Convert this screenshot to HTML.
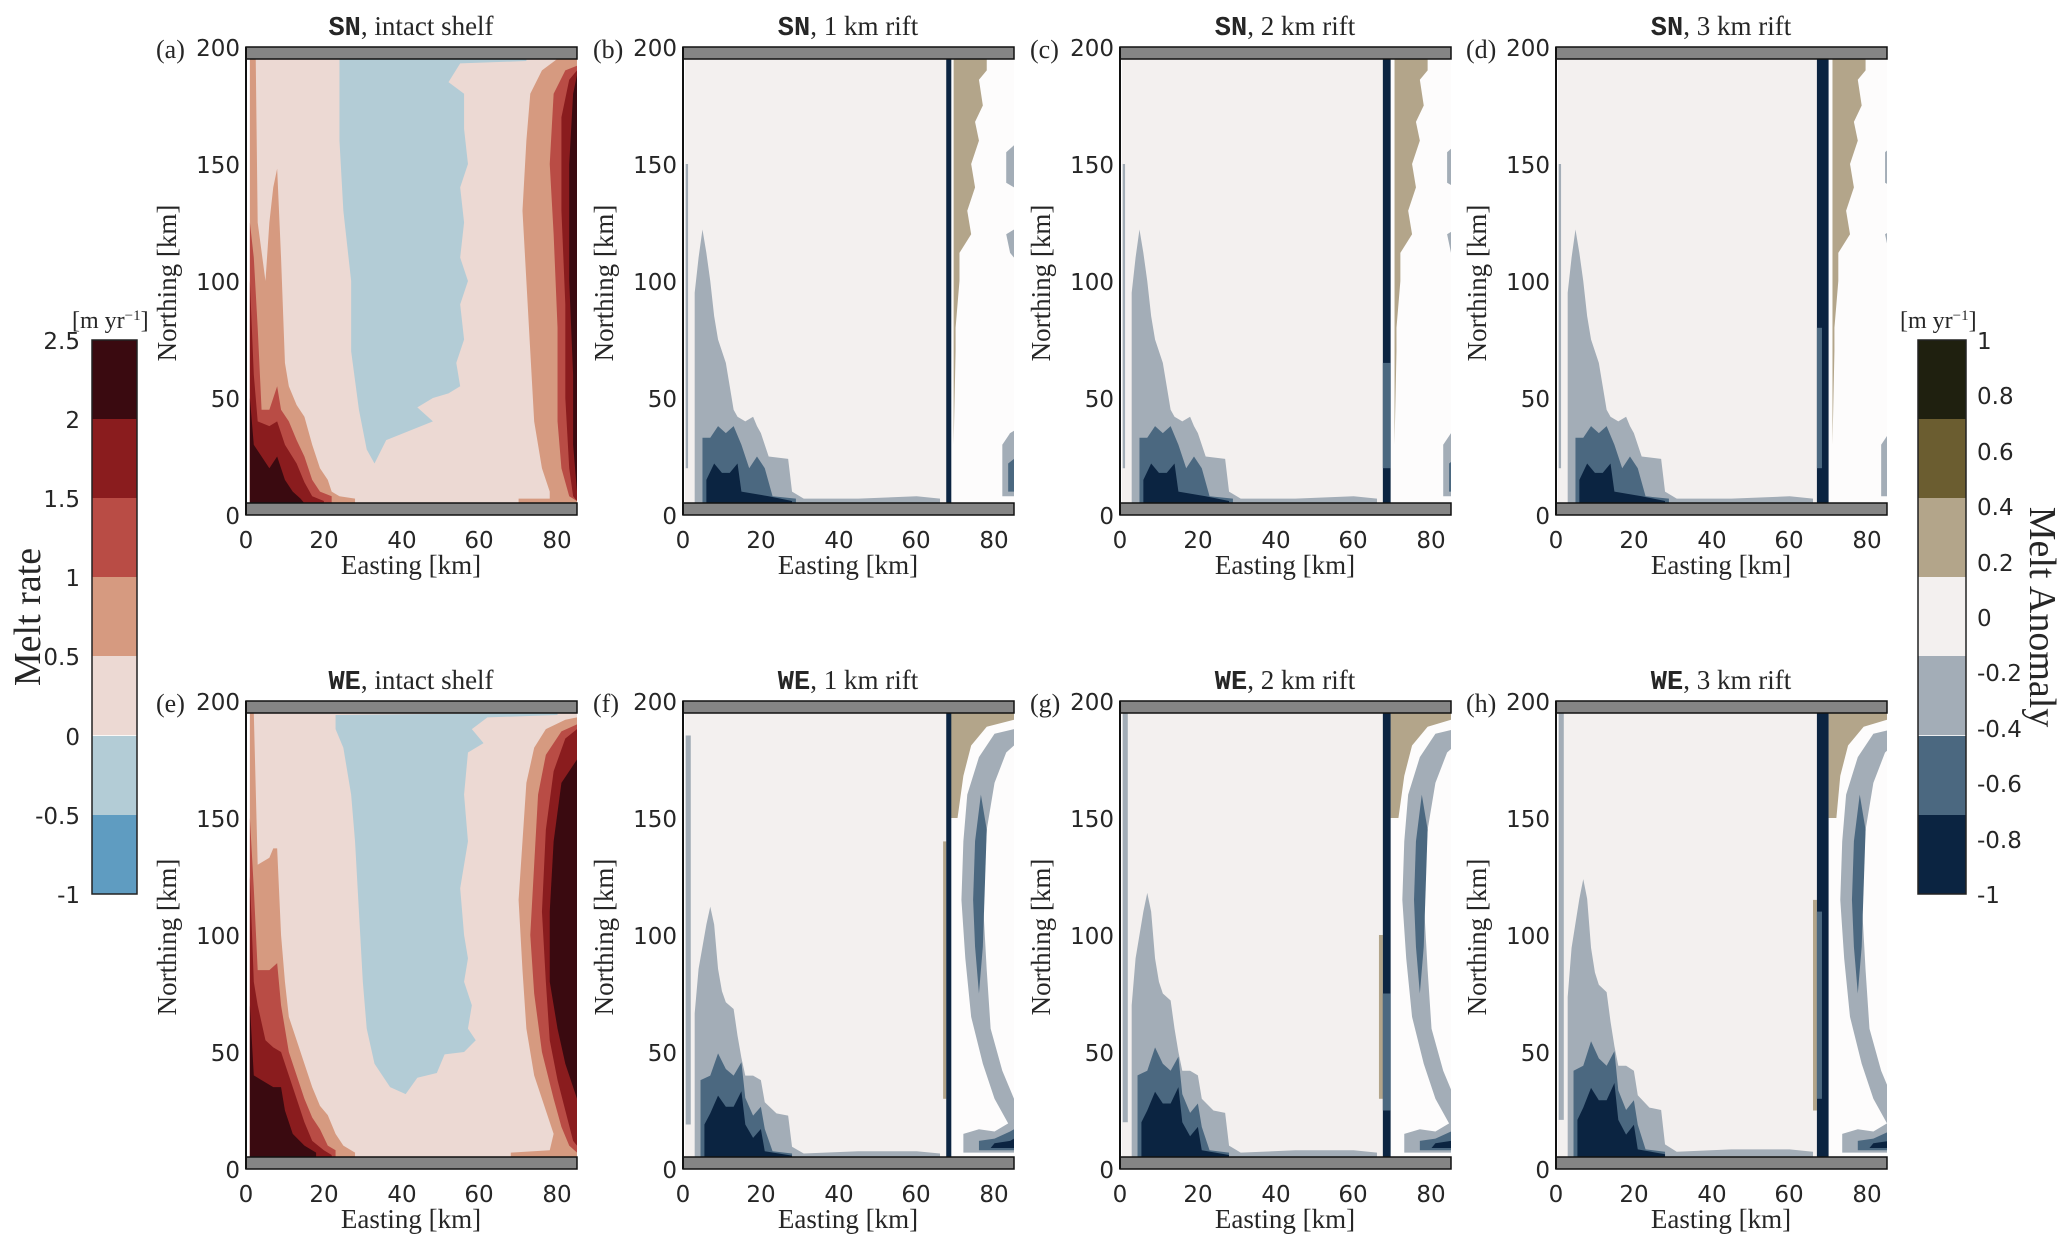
<!DOCTYPE html>
<html><head><meta charset="utf-8"><style>
html,body{margin:0;padding:0;background:#fff;}
svg{display:block;}
.t{font-family:"DejaVu Sans","Liberation Sans",sans-serif;font-size:23px;fill:#262626;}
.s{font-family:"Liberation Serif",serif;font-size:27px;fill:#262626;}
.m{font-family:"Liberation Mono",monospace;font-weight:bold;}
</style></head><body>
<svg width="2067" height="1249" viewBox="0 0 2067 1249" xmlns="http://www.w3.org/2000/svg">
<defs>
<g id="meltA">
<rect x="0" y="0" width="85" height="200" fill="#fff"/>
<rect x="1" y="5" width="84" height="190" fill="#ecd9d3"/>
<polygon fill="#b3ccd6" points="24,195 72,195 72,194 55,193 52,185 56,180 56,165 57,150 55,140 56,125 55,110 57,100 55,90 56,75 54,65 55,55 52,52 48,50 44,46 48,40 42,36 36,32 33,22 31,28 29,45 27,70 27,100 25,130 24,160"/>
<polygon fill="#d69a80" points="1,5 1,195 2.5,195 3,125 5,100 6,125 7,140 8,148 9,110 10,65 11,55 13,47 15,42 17,30 19,20 21,15 22,10 24,8 28,7 28,5"/>
<polygon fill="#b94c45" points="1,5 1,125 2,110 3,80 4,45 6,45 8,55 9,45 11,40 13,32 15,25 17,15 19,10 22,8 22,5"/>
<polygon fill="#8a1c1e" points="1,5 1,100 2,60 3,40 6,38 8,40 10,30 13,22 15,14 17,8 20,6 20,5"/>
<polygon fill="#3a0a10" points="1,5 1,50 2,30 4,25 6,20 8,25 10,15 12,10 14,7 15,5"/>
<polygon fill="#d69a80" points="85,195 80,195 76,190 73,180 72,160 71,130 72,100 73,70 74,40 76,20 78,10 78,7 70,7 70,5 85,5"/>
<polygon fill="#b94c45" points="85,192 82,190 79,180 78,150 79,120 80,80 80,40 81,20 83,8 85,6"/>
<polygon fill="#8a1c1e" points="85,190 83,186 81,170 81,130 82,90 82,50 83,20 84,8 85,6"/>
<polygon fill="#3a0a10" points="85,188 84,180 83,150 83,100 84,60 84,30 85,10"/>
</g>
<g id="meltE">
<rect x="0" y="0" width="85" height="200" fill="#fff"/>
<rect x="1" y="5" width="84" height="190" fill="#ecd9d3"/>
<polygon fill="#b3ccd6" points="23,194 80,195 80,194 62,193 58,188 61,182 57,178 56,160 57,140 55,120 56,100 57,90 56,80 58,70 57,60 59,55 56,50 51,49 49,41 44,39 41,32 37,35 33,45 31,60 30,80 29,110 28,140 27,160 25,180 23,188"/>
<polygon fill="#d69a80" points="1,5 1,195 2,195 3,130 6,133 7,137 8,137 9,100 10,80 11,65 13,55 15,45 17,35 19,27 21,23 23,15 25,10 28,7 28,5"/>
<polygon fill="#b94c45" points="1,5 1,150 2,120 3,85 6,85 8,88 9,70 10,60 11,50 13,40 15,30 17,22 19,17 21,10 23,8 23,5"/>
<polygon fill="#8a1c1e" points="1,5 1,125 2,80 3,70 5,55 7,52 9,50 11,40 13,30 15,20 17,12 20,8 22,6 22,5"/>
<polygon fill="#3a0a10" points="1,5 1,70 2,40 4,38 7,35 9,35 10,25 12,15 15,10 18,7 18,5"/>
<polygon fill="#d69a80" points="85,193 82,192 77,188 74,180 72,165 71,140 70,115 71,85 72,60 74,40 77,25 79,15 78,8 68,7 68,5 85,5"/>
<polygon fill="#b94c45" points="85,190 81,187 77,177 75,160 74,130 73,100 74,75 76,50 79,30 81,18 83,10 85,7"/>
<polygon fill="#8a1c1e" points="85,188 82,184 79,170 77,145 76,110 77,80 78,55 80,38 82,25 84,12 85,10"/>
<polygon fill="#3a0a10" points="85,175 81,165 79,140 78,110 78,80 80,60 82,45 84,35 85,30"/>
</g>
<g id="leftSN">
<polygon fill="#a3adb7" points="0.7,20 0.7,150 1.3,150 1.3,20"/>
<polygon fill="#a3adb7" points="3,6 3,95 4,110 5,122 6,112 7,100 8,85 9,75 11,65 12,55 13,45 14,42 16,40 18,42 19,38 20,35 22,25 27,24 28,10 31,7 45,7 60,8 66,7 66,5 3,5"/>
<polygon fill="#4b6880" points="5,5 5,33 7,33 9,38 11,35 13,38 15,30 17,20 19,25 21,20 23,8 29,7 29,5"/>
<polygon fill="#0b2441" points="6,5 6,15 8,22 10,18 12,18 14,22 15,10 22,8 28,6 28,5"/>
</g>
<g id="leftWE">
<polygon fill="#a3adb7" points="0.7,20 0.7,195 2,195 2,20"/>
<polygon fill="#a3adb7" points="3,6 3,70 4,90 5,100 6,110 7,118 8,110 9,90 10,80 11,75 13,72 14,60 15,50 16,42 18,42 20,40 21,30 24,25 27,24 28,10 31,7 45,8 60,8 66,7 66,5 3,5"/>
<polygon fill="#4b6880" points="4.5,5 4.5,40 7,42 9,52 11,45 13,42 15,48 16,32 18,24 20,28 21,18 23,8 28,7 28,5"/>
<polygon fill="#0b2441" points="5.5,5 5.5,20 7,25 9,33 11,28 13,28 15,35 16,20 18,14 20,18 21,8 28,6 28,5"/>
</g>
<g id="rightSN">
<rect x="68" y="5" width="17" height="190" fill="#fdfcfc"/>
<polygon fill="#b3a58a" points="69.5,195 78,195 78,190 76,186 77,175 75,168 76,160 74,150 75,140 73,130 74,120 71,112 71,100 70,80 70,70 69.5,30"/>
<polygon fill="#a3adb7" points="83,155 85,158 85,140 83,142"/>
<polygon fill="#a3adb7" points="83,120 85,122 85,110 84,112"/>
<polygon fill="#a3adb7" points="82,8 82,30 84,35 85,36 85,8"/>
<polygon fill="#4b6880" points="83.5,10 83.5,22 85,24 85,10"/>
</g>
<g id="rightWE">
<rect x="68" y="5" width="17" height="190" fill="#fdfcfc"/>
<polygon fill="#a3adb7" points="85,188 80,186 76,176 73,160 72,140 71.5,115 72.5,90 74,65 77,45 80,30 84,18 85,14 85,30 82,42 79,60 78,85 77,115 78,145 80,165 83,178 85,181"/>
<polygon fill="#4b6880" points="76.5,160 75,140 74.5,115 75,95 76,75 77,95 77.5,120 78,145"/>
<polygon fill="#a3adb7" points="72,7 72,15 76,17 80,16 84,20 85,22 85,7"/>
<polygon fill="#4b6880" points="76,8 76,12 80,13 84,16 85,17 85,8"/>
<polygon fill="#0b2441" points="79,9 80,11 84,12 85,13 85,9"/>
</g>
</defs>

<g class="s" text-anchor="middle">
<text x="411" y="35"><tspan class="m">SN</tspan>, intact shelf</text>
<text x="848" y="35"><tspan class="m">SN</tspan>, 1 km rift</text>
<text x="1285" y="35"><tspan class="m">SN</tspan>, 2 km rift</text>
<text x="1721" y="35"><tspan class="m">SN</tspan>, 3 km rift</text>
<text x="411" y="689"><tspan class="m">WE</tspan>, intact shelf</text>
<text x="848" y="689"><tspan class="m">WE</tspan>, 1 km rift</text>
<text x="1285" y="689"><tspan class="m">WE</tspan>, 2 km rift</text>
<text x="1721" y="689"><tspan class="m">WE</tspan>, 3 km rift</text>
</g>

<svg x="246" y="47" width="331" height="468" viewBox="0 0 85 200" preserveAspectRatio="none"><g transform="matrix(1,0,0,-1,0,200)"><use href="#meltA"/></g></svg>
<svg x="246" y="701" width="331" height="468" viewBox="0 0 85 200" preserveAspectRatio="none"><g transform="matrix(1,0,0,-1,0,200)"><use href="#meltE"/></g></svg>

<svg x="683" y="47" width="331" height="468" viewBox="0 0 85 200" preserveAspectRatio="none"><g transform="matrix(1,0,0,-1,0,200)">
<rect width="85" height="200" fill="#fff"/><rect x="0.5" y="5" width="84.5" height="190" fill="#f3f0ef"/>
<use href="#leftSN"/><use href="#rightSN"/><rect x="67.6" y="5" width="1.3" height="190" fill="#0b2441"/></g></svg>
<svg x="1120" y="47" width="331" height="468" viewBox="0 0 85 200" preserveAspectRatio="none"><g transform="matrix(1,0,0,-1,0,200)">
<rect width="85" height="200" fill="#fff"/><rect x="0.5" y="5" width="84.5" height="190" fill="#f3f0ef"/>
<use href="#leftSN"/><use href="#rightSN" transform="translate(1,0)"/><rect x="67.5" y="5" width="2" height="190" fill="#0b2441"/><rect x="67.5" y="20" width="2" height="45" fill="#4b6880"/></g></svg>
<svg x="1556" y="47" width="331" height="468" viewBox="0 0 85 200" preserveAspectRatio="none"><g transform="matrix(1,0,0,-1,0,200)">
<rect width="85" height="200" fill="#fff"/><rect x="0.5" y="5" width="84.5" height="190" fill="#f3f0ef"/>
<use href="#leftSN"/><use href="#rightSN" transform="translate(1.5,0)"/><rect x="67" y="5" width="3" height="190" fill="#0b2441"/><rect x="67" y="20" width="1.3" height="60" fill="#4b6880"/></g></svg>

<svg x="683" y="701" width="331" height="468" viewBox="0 0 85 200" preserveAspectRatio="none"><g transform="matrix(1,0,0,-1,0,200)">
<rect width="85" height="200" fill="#fff"/><rect x="0.5" y="5" width="84.5" height="190" fill="#f3f0ef"/>
<use href="#leftWE" transform="scale(1,0.95)"/><use href="#rightWE"/>
<polygon fill="#b3a58a" points="68.5,195 85,195 85,192 78,189 74,181 72,168 70.5,150 68.5,150"/>
<rect x="66.8" y="30" width="0.8" height="110" fill="#b3a58a"/>
<rect x="67.6" y="5" width="1.3" height="190" fill="#0b2441"/></g></svg>
<svg x="1120" y="701" width="331" height="468" viewBox="0 0 85 200" preserveAspectRatio="none"><g transform="matrix(1,0,0,-1,0,200)">
<rect width="85" height="200" fill="#fff"/><rect x="0.5" y="5" width="84.5" height="190" fill="#f3f0ef"/>
<use href="#leftWE"/><use href="#rightWE" transform="translate(1,0)"/>
<polygon fill="#b3a58a" points="69.5,195 85,195 85,192 79,189 75,181 73,168 71.5,150 69.5,150"/>
<rect x="66.5" y="30" width="1" height="70" fill="#b3a58a"/>
<rect x="67.5" y="5" width="2" height="190" fill="#0b2441"/><rect x="67.5" y="25" width="2" height="50" fill="#4b6880"/></g></svg>
<svg x="1556" y="701" width="331" height="468" viewBox="0 0 85 200" preserveAspectRatio="none"><g transform="matrix(1,0,0,-1,0,200)">
<rect width="85" height="200" fill="#fff"/><rect x="0.5" y="5" width="84.5" height="190" fill="#f3f0ef"/>
<use href="#leftWE" transform="scale(1,1.05)"/><use href="#rightWE" transform="translate(1.5,0)"/>
<polygon fill="#b3a58a" points="70,195 85,195 85,192 79,189 75,181 73,168 72,150 70,150"/>
<rect x="66" y="25" width="1" height="90" fill="#b3a58a"/>
<rect x="67" y="5" width="3" height="190" fill="#0b2441"/><rect x="67" y="30" width="1.3" height="80" fill="#4b6880"/></g></svg>

<g fill="#858585" stroke="#111" stroke-width="1.5">
<rect x="246" y="47" width="331" height="12"/><rect x="246" y="503" width="331" height="12"/>
<rect x="683" y="47" width="331" height="12"/><rect x="683" y="503" width="331" height="12"/>
<rect x="1120" y="47" width="331" height="12"/><rect x="1120" y="503" width="331" height="12"/>
<rect x="1556" y="47" width="331" height="12"/><rect x="1556" y="503" width="331" height="12"/>
<rect x="246" y="701" width="331" height="12"/><rect x="246" y="1157" width="331" height="12"/>
<rect x="683" y="701" width="331" height="12"/><rect x="683" y="1157" width="331" height="12"/>
<rect x="1120" y="701" width="331" height="12"/><rect x="1120" y="1157" width="331" height="12"/>
<rect x="1556" y="701" width="331" height="12"/><rect x="1556" y="1157" width="331" height="12"/>
</g>
<g stroke="#111" stroke-width="2">
<line x1="246" y1="47" x2="246" y2="515"/><line x1="683" y1="47" x2="683" y2="515"/>
<line x1="1120" y1="47" x2="1120" y2="515"/><line x1="1556" y1="47" x2="1556" y2="515"/>
<line x1="246" y1="701" x2="246" y2="1169"/><line x1="683" y1="701" x2="683" y2="1169"/>
<line x1="1120" y1="701" x2="1120" y2="1169"/><line x1="1556" y1="701" x2="1556" y2="1169"/>
</g>

<g class="t" text-anchor="end">
<text x="240" y="56">200</text><text x="240" y="173">150</text><text x="240" y="290">100</text><text x="240" y="407">50</text><text x="240" y="524">0</text>
<text x="677" y="56">200</text><text x="677" y="173">150</text><text x="677" y="290">100</text><text x="677" y="407">50</text><text x="677" y="524">0</text>
<text x="1114" y="56">200</text><text x="1114" y="173">150</text><text x="1114" y="290">100</text><text x="1114" y="407">50</text><text x="1114" y="524">0</text>
<text x="1550" y="56">200</text><text x="1550" y="173">150</text><text x="1550" y="290">100</text><text x="1550" y="407">50</text><text x="1550" y="524">0</text>
<text x="240" y="710">200</text><text x="240" y="827">150</text><text x="240" y="944">100</text><text x="240" y="1061">50</text><text x="240" y="1178">0</text>
<text x="677" y="710">200</text><text x="677" y="827">150</text><text x="677" y="944">100</text><text x="677" y="1061">50</text><text x="677" y="1178">0</text>
<text x="1114" y="710">200</text><text x="1114" y="827">150</text><text x="1114" y="944">100</text><text x="1114" y="1061">50</text><text x="1114" y="1178">0</text>
<text x="1550" y="710">200</text><text x="1550" y="827">150</text><text x="1550" y="944">100</text><text x="1550" y="1061">50</text><text x="1550" y="1178">0</text>
</g>
<g class="t" text-anchor="middle">
<text x="246" y="548">0</text><text x="324" y="548">20</text><text x="402" y="548">40</text><text x="479" y="548">60</text><text x="557" y="548">80</text>
<text x="683" y="548">0</text><text x="761" y="548">20</text><text x="839" y="548">40</text><text x="916" y="548">60</text><text x="994" y="548">80</text>
<text x="1120" y="548">0</text><text x="1198" y="548">20</text><text x="1276" y="548">40</text><text x="1353" y="548">60</text><text x="1431" y="548">80</text>
<text x="1556" y="548">0</text><text x="1634" y="548">20</text><text x="1712" y="548">40</text><text x="1789" y="548">60</text><text x="1867" y="548">80</text>
<text x="246" y="1202">0</text><text x="324" y="1202">20</text><text x="402" y="1202">40</text><text x="479" y="1202">60</text><text x="557" y="1202">80</text>
<text x="683" y="1202">0</text><text x="761" y="1202">20</text><text x="839" y="1202">40</text><text x="916" y="1202">60</text><text x="994" y="1202">80</text>
<text x="1120" y="1202">0</text><text x="1198" y="1202">20</text><text x="1276" y="1202">40</text><text x="1353" y="1202">60</text><text x="1431" y="1202">80</text>
<text x="1556" y="1202">0</text><text x="1634" y="1202">20</text><text x="1712" y="1202">40</text><text x="1789" y="1202">60</text><text x="1867" y="1202">80</text>
</g>
<g class="s" text-anchor="middle">
<text x="411" y="574">Easting [km]</text><text x="848" y="574">Easting [km]</text><text x="1285" y="574">Easting [km]</text><text x="1721" y="574">Easting [km]</text>
<text x="411" y="1228">Easting [km]</text><text x="848" y="1228">Easting [km]</text><text x="1285" y="1228">Easting [km]</text><text x="1721" y="1228">Easting [km]</text>
<text transform="translate(176,283) rotate(-90)">Northing [km]</text>
<text transform="translate(613,283) rotate(-90)">Northing [km]</text>
<text transform="translate(1050,283) rotate(-90)">Northing [km]</text>
<text transform="translate(1486,283) rotate(-90)">Northing [km]</text>
<text transform="translate(176,937) rotate(-90)">Northing [km]</text>
<text transform="translate(613,937) rotate(-90)">Northing [km]</text>
<text transform="translate(1050,937) rotate(-90)">Northing [km]</text>
<text transform="translate(1486,937) rotate(-90)">Northing [km]</text>
</g>
<g class="s" style="font-size:26px">
<text x="156" y="58" style="font-size:26px">(a)</text><text x="593" y="58" style="font-size:26px">(b)</text><text x="1030" y="58" style="font-size:26px">(c)</text><text x="1466" y="58" style="font-size:26px">(d)</text>
<text x="156" y="712" style="font-size:26px">(e)</text><text x="593" y="712" style="font-size:26px">(f)</text><text x="1030" y="712" style="font-size:26px">(g)</text><text x="1466" y="712" style="font-size:26px">(h)</text>
</g>

<g>
<rect x="92" y="340" width="45" height="79.2" fill="#3a0a10"/>
<rect x="92" y="419" width="45" height="79.2" fill="#8a1c1e"/>
<rect x="92" y="498" width="45" height="79.2" fill="#b94c45"/>
<rect x="92" y="577" width="45" height="79.2" fill="#d69a80"/>
<rect x="92" y="656" width="45" height="79.2" fill="#ecd9d3"/>
<rect x="92" y="736" width="45" height="79.2" fill="#b3ccd6"/>
<rect x="92" y="815" width="45" height="79" fill="#5f9cc1"/>
<rect x="92" y="340" width="45" height="554" fill="none" stroke="#222" stroke-width="1.5"/>
</g>
<g class="t" text-anchor="end">
<text x="80" y="349">2.5</text><text x="80" y="428">2</text><text x="80" y="507">1.5</text><text x="80" y="586">1</text><text x="80" y="665">0.5</text><text x="80" y="745">0</text><text x="80" y="824">-0.5</text><text x="80" y="903">-1</text>
</g>
<text class="s" x="72" y="328" style="font-size:24px">[m yr<tspan baseline-shift="super" style="font-size:15px">−1</tspan>]</text>
<text class="s" text-anchor="middle" transform="translate(40,617) rotate(-90)" style="font-size:38px">Melt rate</text>

<g>
<rect x="1918" y="340" width="48" height="79.2" fill="#1f200f"/>
<rect x="1918" y="419" width="48" height="79.2" fill="#6b5d30"/>
<rect x="1918" y="498" width="48" height="79.2" fill="#b3a58a"/>
<rect x="1918" y="577" width="48" height="79.2" fill="#f3f0ef"/>
<rect x="1918" y="656" width="48" height="79.2" fill="#a3adb7"/>
<rect x="1918" y="736" width="48" height="79.2" fill="#4b6880"/>
<rect x="1918" y="815" width="48" height="79" fill="#0b2441"/>
<rect x="1918" y="340" width="48" height="554" fill="none" stroke="#222" stroke-width="1.5"/>
</g>
<g class="t" text-anchor="start">
<text x="1977" y="349">1</text><text x="1977" y="404">0.8</text><text x="1977" y="460">0.6</text><text x="1977" y="515">0.4</text><text x="1977" y="571">0.2</text><text x="1977" y="626">0</text><text x="1977" y="681">-0.2</text><text x="1977" y="737">-0.4</text><text x="1977" y="792">-0.6</text><text x="1977" y="848">-0.8</text><text x="1977" y="903">-1</text>
</g>
<text class="s" x="1900" y="328" style="font-size:24px">[m yr<tspan baseline-shift="super" style="font-size:15px">−1</tspan>]</text>
<text class="s" text-anchor="middle" transform="translate(2030,617) rotate(90)" style="font-size:38px">Melt Anomaly</text>
</svg>
</body></html>
